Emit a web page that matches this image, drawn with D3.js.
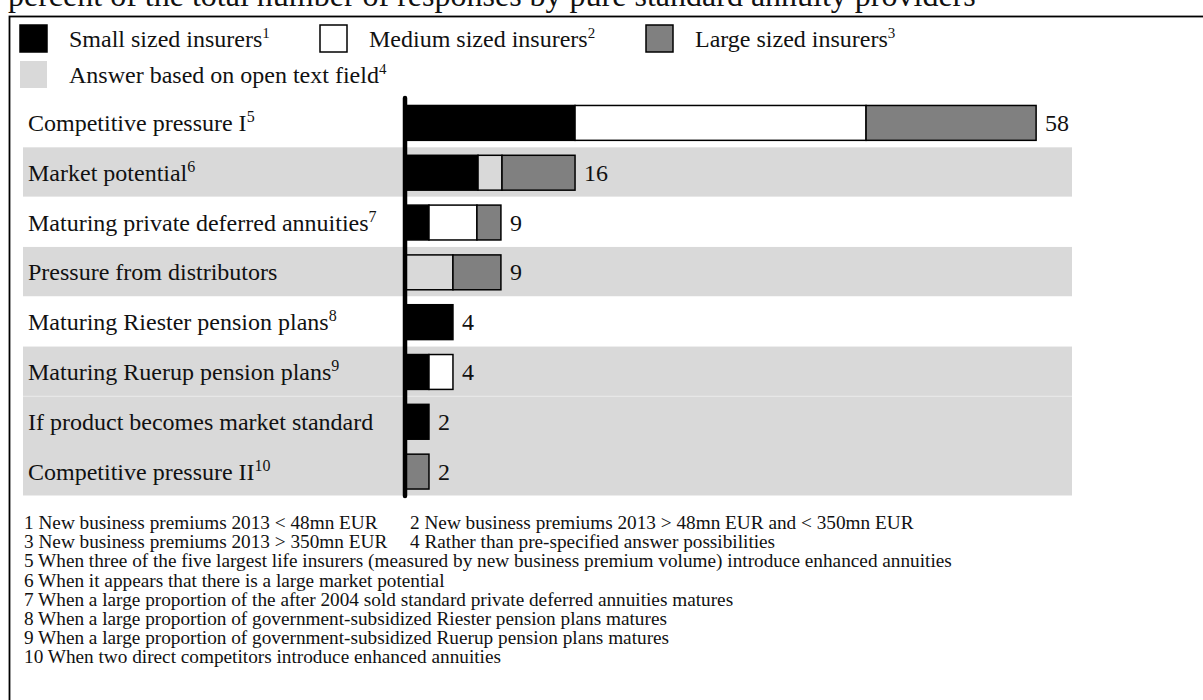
<!DOCTYPE html>
<html>
<head>
<meta charset="utf-8">
<script src="https://cdn.jsdelivr.net/npm/d3@7"></script>
<style>
  html, body { margin: 0; padding: 0; background: #fff; }
  svg { display: block; font-family: "Liberation Serif", "Times New Roman", serif; }
</style>
</head>
<body>
<svg id="chart" width="1203" height="700"></svg>
<script>
// Triggers for offering enhanced annuities, in percent of all responses
const categories = [
  "Competitive pressure I",
  "Market potential",
  "Maturing private deferred annuities",
  "Pressure from distributors",
  "Maturing Riester pension plans",
  "Maturing Ruerup pension plans",
  "If product becomes market standard",
  "Competitive pressure II"
];
const categoryNotes = ["5", "6", "7", "", "8", "9", "", "10"];

// Share of responses per insurer group (percent)
const smallInsurers  = [15.6, 6.7, 2.2, 0,   4.4, 2.2, 2.2, 0];
const mediumInsurers = [26.7, 0,   4.4, 0,   0,   2.2, 0,   0];
const openAnswers    = [0,    2.2, 0,   4.4, 0,   0,   0,   0];
const largeInsurers  = [15.6, 6.7, 2.2, 4.4, 0,   0,   0,   2.2];

const seriesNames = ["Small sized insurers", "Medium sized insurers", "Answer based on open text field", "Large sized insurers"];
const seriesNotes = ["1", "2", "4", "3"];

// Rows sharing a number are drawn as one shaded block; null = no shading
const shadeGroup = [null, 1, null, 2, null, 3, 4, 4];

const title = "percent of the total number of responses by pure standard annuity providers";

const footnotes = [
  ["1 New business premiums 2013 < 48mn EUR", "2 New business premiums 2013 > 48mn EUR and < 350mn EUR"],
  ["3 New business premiums 2013 > 350mn EUR", "4 Rather than pre-specified answer possibilities"],
  ["5 When three of the five largest life insurers (measured by new business premium volume) introduce enhanced annuities"],
  ["6 When it appears that there is a large market potential"],
  ["7 When a large proportion of the after 2004 sold standard private deferred annuities matures"],
  ["8 When a large proportion of government-subsidized Riester pension plans matures"],
  ["9 When a large proportion of government-subsidized Ruerup pension plans matures"],
  ["10 When two direct competitors introduce enhanced annuities"]
];

const seriesValues = [smallInsurers, mediumInsurers, openAnswers, largeInsurers];
const seriesFill = ["#000000", "#ffffff", "#d9d9d9", "#808080"];

const svg = d3.select("#chart");
const ink = "#111";

// Title line (runs above the frame)
svg.append("text")
  .attr("x", 8).attr("y", 6)
  .attr("font-size", 32).attr("fill", ink)
  .text(title);

// Frame
svg.append("rect")
  .attr("x", 9.5).attr("y", 16.5)
  .attr("width", 1400).attr("height", 900)
  .attr("fill", "none").attr("stroke", "#000").attr("stroke-width", 1.8);

// Scales
const x = d3.scaleLinear().domain([0, 60]).range([405, 405 + 60 * 10.9]);
const y = d3.scaleBand().domain(categories).range([97, 495.5]).padding(0);
const bw = y.bandwidth();

// Row shading
const groups = d3.groups(
  categories.map((c, i) => ({ c, g: shadeGroup[i] })).filter(d => d.g !== null),
  d => d.g
);
svg.append("g").selectAll("rect")
  .data(groups)
  .join("rect")
  .attr("x", 23)
  .attr("width", 1072 - 23)
  .attr("y", ([, rows]) => y(rows[0].c) + 0.5)
  .attr("height", ([, rows]) => y(rows[rows.length - 1].c) + bw - y(rows[0].c) - 0.5)
  .attr("fill", "#d9d9d9");

// Stacked segments
const rows = categories.map((c, i) => {
  let acc = 0;
  const segs = seriesValues.map((vals, s) => {
    const seg = { c, s, x0: acc, x1: acc + vals[i], v: vals[i] };
    acc += vals[i];
    return seg;
  }).filter(d => d.v > 0);
  return { c, total: acc, segs };
});

const barH = bw * 0.7;
const barOff = bw * 0.15 + 1;

svg.append("g").selectAll("rect")
  .data(rows.flatMap(r => r.segs))
  .join("rect")
  .attr("x", d => x(d.x0))
  .attr("width", d => x(d.x1) - x(d.x0))
  .attr("y", d => y(d.c) + barOff)
  .attr("height", barH)
  .attr("fill", d => seriesFill[d.s])
  .attr("stroke", "#000")
  .attr("stroke-width", 1.5);

// Total labels
svg.append("g").selectAll("text")
  .data(rows)
  .join("text")
  .attr("x", d => x(d.total) + 9)
  .attr("y", d => y(d.c) + bw / 2 + 9)
  .attr("font-size", 24).attr("fill", ink)
  .text(d => Math.round(d.total));

// Category axis line
svg.append("line")
  .attr("x1", x(0)).attr("x2", x(0))
  .attr("y1", 98).attr("y2", 496)
  .attr("stroke", "#000").attr("stroke-width", 4.5)
  .attr("stroke-linecap", "round");

// Category labels with note markers
const catLabels = svg.append("g").selectAll("text")
  .data(categories)
  .join("text")
  .attr("x", 28)
  .attr("y", d => y(d) + bw / 2 + 9)
  .attr("font-size", 24).attr("fill", ink);
catLabels.append("tspan").text(d => d);
catLabels.append("tspan")
  .attr("font-size", 16).attr("dy", -9)
  .text((d, i) => categoryNotes[i]);

// Legend
const legendItems = [
  { s: 0, x: 20, y: 25 },
  { s: 1, x: 320, y: 25 },
  { s: 3, x: 646, y: 25 },
  { s: 2, x: 20, y: 61 }
];
const legend = svg.append("g").selectAll("g")
  .data(legendItems)
  .join("g")
  .attr("transform", d => `translate(${d.x},${d.y})`);
legend.append("rect")
  .attr("width", 27).attr("height", 27)
  .attr("fill", d => seriesFill[d.s])
  .attr("stroke", d => d.s === 2 ? "none" : "#000")
  .attr("stroke-width", 1.5);
const legText = legend.append("text")
  .attr("x", 49).attr("y", 22)
  .attr("font-size", 24).attr("fill", ink);
legText.append("tspan").text(d => seriesNames[d.s]);
legText.append("tspan")
  .attr("font-size", 15).attr("dy", -9)
  .text(d => seriesNotes[d.s]);

// Footnotes
const fn = svg.append("g").attr("font-size", 19.25).attr("fill", ink);
footnotes.forEach((line, i) => {
  line.forEach((t, j) => {
    fn.append("text")
      .attr("x", j === 0 ? 24 : 410)
      .attr("y", 529 + i * 19.2)
      .text(t);
  });
});
</script>
</body>
</html>
